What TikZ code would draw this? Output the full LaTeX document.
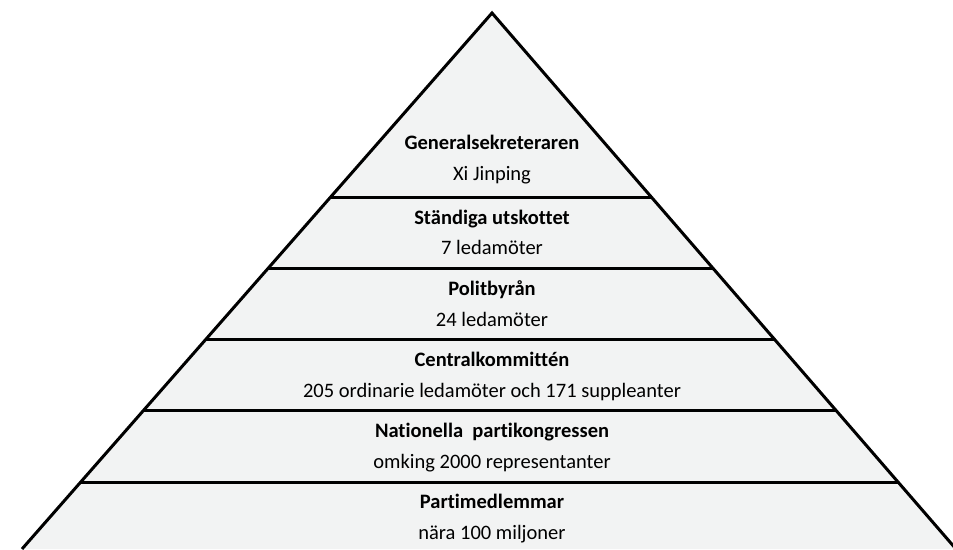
\documentclass[tikz,border=0pt]{standalone}
\usepackage{fontspec}
\setmainfont[Ligatures=NoCommon]{Carlito}
\usetikzlibrary{calc}
\definecolor{bandfill}{HTML}{F2F3F3}
\tikzset{
  edge/.style={line width=3pt, line join=miter, line cap=butt},
  title/.style={font=\fontsize{20.5}{24}\selectfont\bfseries, inner sep=0pt, anchor=base},
  sub/.style={font=\fontsize{20.5}{24}\selectfont, inner sep=0pt, anchor=base},
}
\begin{document}
\begin{tikzpicture}[x=1pt,y=-1pt]
\useasboundingbox (0,0) rectangle (953,549);
\coordinate (apex) at (492,13);
\coordinate (bl) at (22,549);
\coordinate (br) at (956,549);
\fill[bandfill] (apex) -- (bl) -- (br) -- cycle;
\foreach \yy [count=\i] in {198,269,340,411,482}{
  \pgfmathsetmacro{\t}{(\yy-13)/536}
  \coordinate (l\i) at ($(apex)!\t!(bl)$);
  \coordinate (r\i) at ($(apex)!\t!(br)$);
  \draw[edge] (l\i) -- (r\i);
}
\draw[edge] (bl) -- (apex) -- (br);
\node[title] (t1) at (492,149) {Generalsekreteraren};
\node[sub]   (s1) at (492,180) {Xi Jinping};
\node[title] (t2) at (492,224) {Ständiga utskottet};
\node[sub]   (s2) at (492,254) {7 ledamöter};
\node[title] (t3) at (492,295) {Politbyrån};
\node[sub]   (s3) at (492,326) {24 ledamöter};
\node[title] (t4) at (492,366) {Centralkommittén};
\node[sub]   (s4) at (492,397) {205 ordinarie ledamöter och 171 suppleanter};
\node[title] (t5) at (492,437) {Nationella\ \ partikongressen};
\node[sub]   (s5) at (492,468) {omking 2000 representanter};
\node[title] (t6) at (492,508) {Partimedlemmar};
\node[sub]   (s6) at (492,539) {nära 100 miljoner};
\end{tikzpicture}
\end{document}
